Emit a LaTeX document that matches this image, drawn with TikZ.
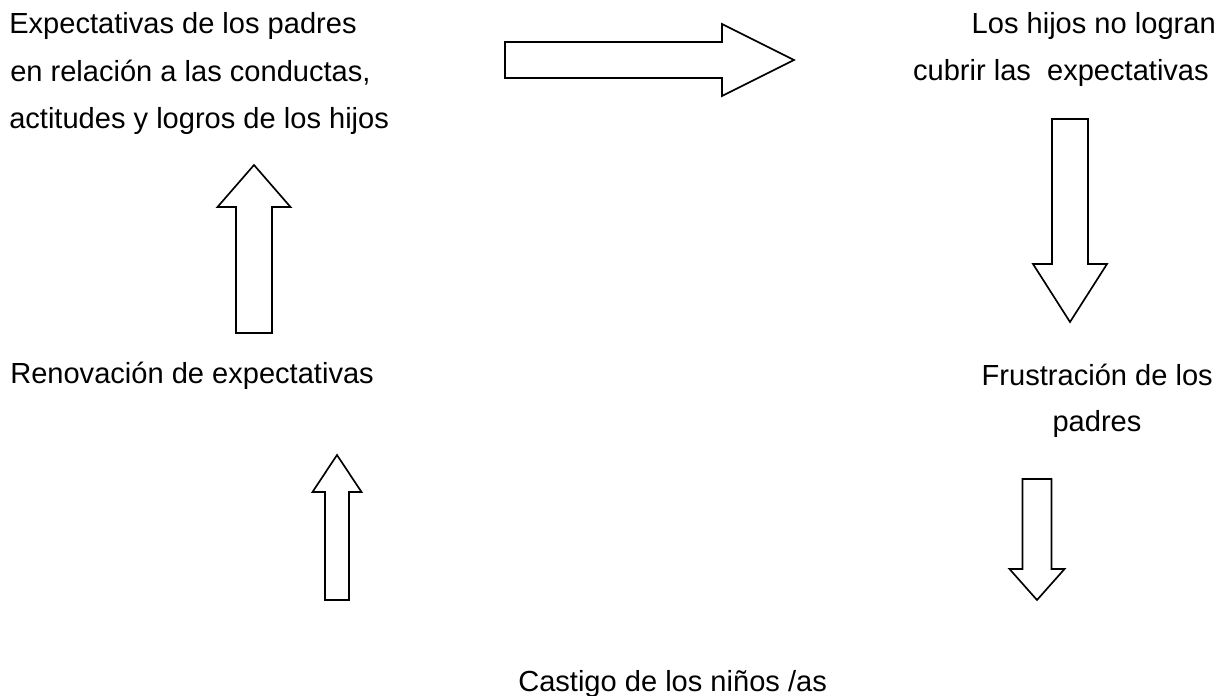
\documentclass[tikz,border=0pt]{standalone}
\usepackage{fontspec}
\setmainfont{Liberation Sans}
\usepackage{tikz}
\usetikzlibrary{calc}

\tikzset{
  arrowline/.style={line width=1.25pt,line join=miter},
  txt/.style={inner sep=0pt,font=\fontsize{21.8}{35.6}\selectfont},
  pics/blockarrow/.style n args={4}{code={
    \draw[arrowline] (0,-#2) -- (#1-#4,-#2) -- (#1-#4,-#3) -- (#1,0)
      -- (#1-#4,#3) -- (#1-#4,#2) -- (0,#2) -- cycle;
  }}
}

\begin{document}
\begin{tikzpicture}[x=0.75pt,y=-0.75pt]
	\useasboundingbox (0,0) rectangle (1228,696);
	% texts
	\node[txt,anchor=base west] (E1) at (9,33)  {Expectativas de los padres};
	\node[txt,anchor=base west] (E2) at (10,81) {en relación a las conductas,};
	\node[txt,anchor=base west] (E3) at (9,128) {actitudes y logros de los hijos};
	\node[txt,anchor=base east] (H1) at (1216,33) {Los hijos no logran};
	\node[txt,anchor=base east] (H2) at (1209,80) {cubrir las~ expectativas};
	\node[txt,anchor=base west] (R)  at (10,383) {Renovación de expectativas};
	\node[txt,anchor=base east] (F1) at (1213,385) {Frustración de los};
	\node[txt,anchor=base]      (F2) at (1097,431) {padres};
	\node[txt,anchor=base west] (C)  at (518,691) {Castigo de los niños /as};
	% block arrows
	\pic (toH)  at (505,60)  {blockarrow={289}{18}{36}{72}};
	\pic[rotate=-90] (toF) at (1070,119) {blockarrow={203}{18}{37}{58}};
	\pic[rotate=-90] (toC) at (1037,479) {blockarrow={121}{14.5}{27.5}{31}};
	\pic[rotate=90]  (toR) at (337,600)  {blockarrow={145}{12}{24.5}{37}};
	\pic[rotate=90]  (toE) at (254,333)  {blockarrow={168}{18}{36.5}{42}};
\end{tikzpicture}
\end{document}
